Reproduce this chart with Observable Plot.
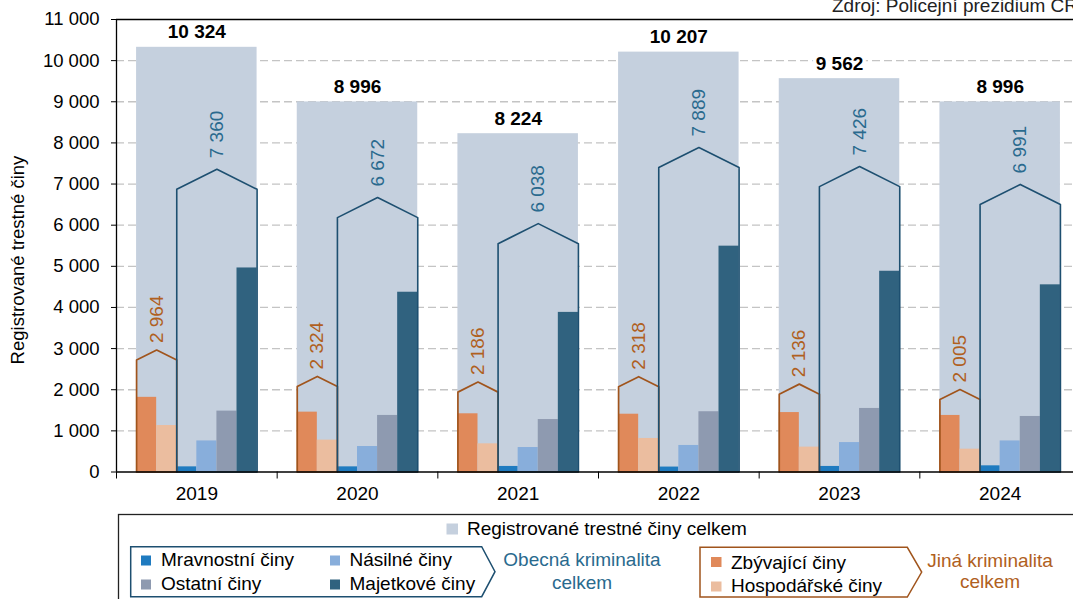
<!DOCTYPE html>
<html><head><meta charset="utf-8">
<script src="https://cdn.jsdelivr.net/npm/d3@7"></script>
<script src="https://cdn.jsdelivr.net/npm/@observablehq/plot@0.6"></script>
<style>
html,body{margin:0;padding:0;background:#fff;overflow:hidden;width:1073px;height:599px;}
#wrap{position:relative;width:1073px;height:599px;overflow:hidden;font-family:"Liberation Sans",Arial,sans-serif;}
#wrap > svg{max-width:none !important;}
#wrap svg.overlay{position:absolute;left:0;top:0;overflow:visible;}
</style></head><body><div id="wrap"></div>
<script>
// ---- data ----
const years = ["2019", "2020", "2021", "2022", "2023", "2024"];
const total = [10324, 8996, 8224, 10207, 9562, 8996];
const obecna = [7360, 6672, 6038, 7889, 7426, 6991];
const jina = [2964, 2324, 2186, 2318, 2136, 2005];
const zbyvajici = [1815, 1455, 1415, 1405, 1445, 1375];
const hospodarske = [1130, 775, 685, 815, 605, 555];
const mravnostni = [125, 125, 135, 120, 135, 150];
const nasilne = [755, 620, 595, 645, 715, 755];
const ostatni = [1480, 1375, 1275, 1465, 1545, 1350];
const majetkove = [4960, 4370, 3880, 5490, 4880, 4550];
const yTicks = [0, 1000, 2000, 3000, 4000, 5000, 6000, 7000, 8000, 9000, 10000, 11000];
const seriesNames = ["Zbývající činy", "Hospodářské činy", "Mravnostní činy", "Násilné činy", "Ostatní činy", "Majetkové činy"];
const seriesValues = [zbyvajici, hospodarske, mravnostni, nasilne, ostatni, majetkove];

// ---- styles ----
const colors = ["#e0895a", "#ebbd9f", "#1f7bc0", "#88aedb", "#8e9ab0", "#30627f"];
const totalColor = "#c5d0de";
const obecnaColor = "#1d4f70", obecnaText = "#2a6a8e";
const jinaColor = "#a0541c", jinaText = "#b0601e";
const FONT = '"Liberation Sans", Arial, sans-serif';
const FS = 19;

const fmt = d3.formatLocale({decimal: ",", thousands: "\u00a0", grouping: [3], currency: ["", ""]}).format(",d");

const W = 1090, H = 510, mT = 19, mB = 38.5, mL = 116, mR = 10;
const yMax = 11000;
const pxPerUnit = (H - mT - mB) / yMax;
const pxPerX = (W - mL - mR) / years.length;
const slot = 0.125;
const idx = years.map((_, i) => i);

function roof(values, start, n) {
  const pts = [];
  values.forEach((v, i) => {
    const a = i + slot * (1 + start), b = a + slot * n, m = (a + b) / 2;
    const r = (slot * n / 2) * pxPerX * 0.5 / pxPerUnit;
    [[a, 0], [a, v - r], [m, v], [b, v - r], [b, 0], [a, 0]].forEach(([x, y]) => pts.push({x, y, z: i}));
  });
  return pts;
}

const subMarks = seriesValues.map((vals, k) =>
  Plot.rect(idx, {x1: i => i + slot * (1 + k), x2: i => i + slot * (2 + k), y1: 0, y2: i => vals[i], fill: colors[k]})
);

const chart = Plot.plot({
  width: W, height: H,
  marginTop: mT, marginBottom: mB, marginLeft: mL, marginRight: mR,
  x: {domain: [0, years.length], axis: null, label: null},
  y: {domain: [0, yMax], axis: null, label: null},
  style: {fontFamily: FONT, fontSize: FS + "px", color: "#000", background: "transparent", overflow: "visible", maxWidth: "none"},
  marks: [
    Plot.ruleY(yTicks.filter(d => d > 0 && d < yMax), {stroke: "#c4c4c4", strokeWidth: 1.3, strokeDasharray: "8,4"}),
    Plot.rect(idx, {x1: i => i + slot, x2: i => i + 1 - slot, y1: 0, y2: i => total[i], fill: totalColor}),
    ...subMarks,
    Plot.line(roof(jina, 0, 2), {x: "x", y: "y", z: "z", stroke: jinaColor, strokeWidth: 1.7, curve: "linear"}),
    Plot.line(roof(obecna, 2, 4), {x: "x", y: "y", z: "z", stroke: obecnaColor, strokeWidth: 1.6, curve: "linear"}),
    Plot.ruleY([0], {stroke: "#000", strokeWidth: 1.3}),
    Plot.ruleY([yMax], {stroke: "#000", strokeWidth: 1.3}),
    Plot.ruleX([0], {stroke: "#000", strokeWidth: 1.3}),
    Plot.axisY({ticks: yTicks, tickFormat: fmt, tickSize: 5, tickPadding: 12, fontSize: 18.5, stroke: "#000", label: null}),
    Plot.axisX({ticks: d3.range(0, years.length + 1), tickSize: 7, tickFormat: () => "", stroke: "#000", label: null}),
    Plot.axisX({ticks: idx.map(i => i + 0.5), tickSize: 0, tickPadding: 14, fontSize: FS, tickFormat: d => years[Math.floor(d)], label: null}),
    Plot.text(idx, {x: i => i + 0.5, y: i => total[i], text: i => fmt(total[i]), dy: -15, fontWeight: "bold", fontSize: FS, fill: "#000", stroke: "#fff", strokeWidth: 7, paintOrder: "stroke"}),
    Plot.text(idx, {x: i => i + slot * 5, y: i => obecna[i], text: i => fmt(obecna[i]), rotate: -90, textAnchor: "start", dy: -11, fontSize: FS, fill: obecnaText}),
    Plot.text(idx, {x: i => i + slot * 2, y: i => jina[i], text: i => fmt(jina[i]), rotate: -90, textAnchor: "start", dy: -7, fontSize: FS, fill: jinaText})
  ]
});
const wrap = document.getElementById("wrap");
wrap.appendChild(chart);

// ---- overlay: axis title, source, legend ----
const svg = d3.select(wrap).append("svg").attr("class", "overlay")
  .attr("width", 1073).attr("height", 599)
  .style("font-family", FONT).style("font-size", FS + "px");

svg.append("text").attr("transform", "translate(18,260) rotate(-90)")
  .attr("text-anchor", "middle").attr("dy", "0.35em").attr("fill", "#000").style("font-size", "18.5px")
  .text("Registrované trestné činy");

svg.append("text").attr("x", 832).attr("y", 12).attr("fill", "#222").text("Zdroj: Policejní prezidium ČR");

// legend box
svg.append("rect").attr("x", 118.5).attr("y", 514.5).attr("width", 1000).attr("height", 200)
  .attr("fill", "none").attr("stroke", "#222").attr("stroke-width", 1.3);
svg.append("rect").attr("x", 446.5).attr("y", 523.5).attr("width", 11.5).attr("height", 11).attr("fill", totalColor);
svg.append("text").attr("x", 467).attr("y", 534.5).attr("fill", "#000").text("Registrované trestné činy celkem");

// Obecná group
svg.append("polygon").attr("points", "130.7,546.7 481.7,546.7 495,571.7 481.7,596.7 130.7,596.7")
  .attr("fill", "none").attr("stroke", obecnaColor).attr("stroke-width", 1.5);
const obItems = [[2, 141, 555.5, 161, 566], [3, 330, 555.5, 349.5, 566], [4, 141, 579.5, 161, 590], [5, 330, 579.5, 349.5, 590]];
obItems.forEach(([k, sx, sy, tx, ty]) => {
  svg.append("rect").attr("x", sx).attr("y", sy).attr("width", 10).attr("height", 10).attr("fill", colors[k]);
  svg.append("text").attr("x", tx).attr("y", ty).attr("fill", "#000").text(seriesNames[k]);
});
svg.append("text").attr("x", 582).attr("y", 566).attr("text-anchor", "middle").attr("fill", obecnaText).text("Obecná kriminalita");
svg.append("text").attr("x", 582).attr("y", 589).attr("text-anchor", "middle").attr("fill", obecnaText).text("celkem");

// Jiná group
svg.append("polygon").attr("points", "700,547.3 907.3,547.3 921.7,572 907.3,597 700,597")
  .attr("fill", "none").attr("stroke", jinaColor).attr("stroke-width", 1.5);
const jiItems = [[0, 711, 557, 731, 569], [1, 711, 581.5, 731, 592]];
jiItems.forEach(([k, sx, sy, tx, ty]) => {
  svg.append("rect").attr("x", sx).attr("y", sy).attr("width", 10.5).attr("height", 10).attr("fill", colors[k]);
  svg.append("text").attr("x", tx).attr("y", ty).attr("fill", "#000").text(seriesNames[k]);
});
svg.append("text").attr("x", 990).attr("y", 567).attr("text-anchor", "middle").attr("fill", jinaText).text("Jiná kriminalita");
svg.append("text").attr("x", 990).attr("y", 588).attr("text-anchor", "middle").attr("fill", jinaText).text("celkem");
</script>
</body></html>
